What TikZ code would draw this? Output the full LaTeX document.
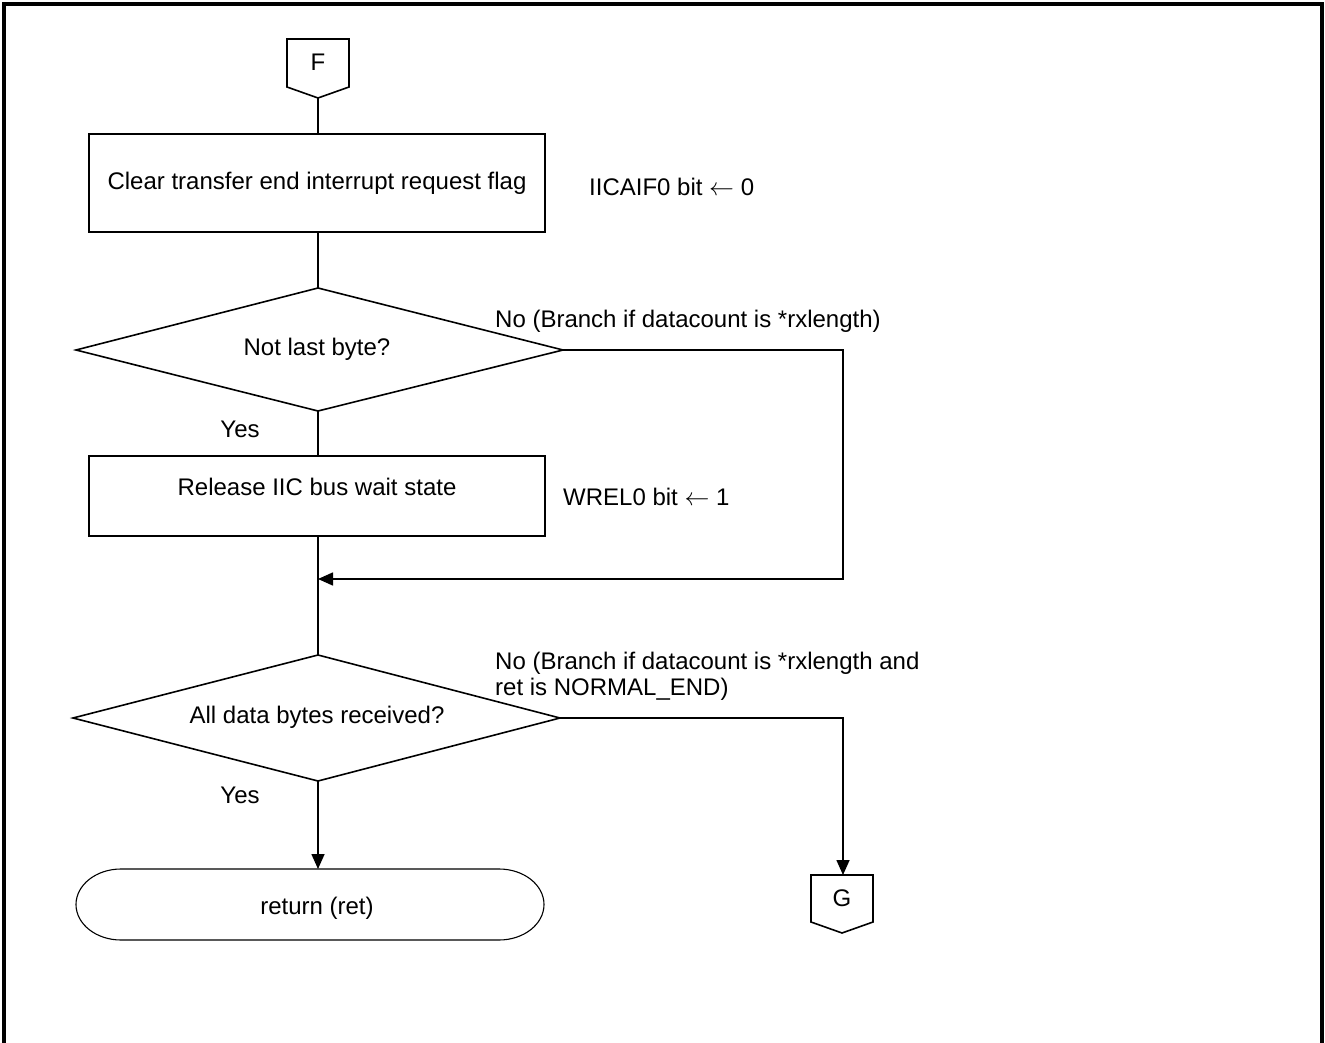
\documentclass[tikz,border=0pt]{standalone}
\usepackage{fontspec}
\setmainfont{Liberation Sans}
\usetikzlibrary{arrows.meta}
\begin{document}
\begin{tikzpicture}[x=1pt,y=-1pt,
  every node/.style={font=\fontsize{24}{26}\selectfont},
  proc/.style={draw, line width=1.6pt, minimum width=456pt, inner sep=0pt},
  conn/.style={line width=1.6pt},
  arr/.style={line width=1.6pt, -{Triangle[length=15pt,width=13pt]}},
  lbl/.style={anchor=west, inner sep=0pt},
  plain/.style={inner sep=0pt}
]
\useasboundingbox (0,0) rectangle (1325,1043);
% frame
\draw[line width=4pt] (4,1043) -- (4,4) -- (1322,4) -- (1322,1043);

% F connector
\draw[conn] (287,39) -- (349,39) -- (349,87) -- (318,98) -- (287,87) -- cycle;
\coordinate (Ftip) at (318,98);
\node[plain] (F) at (318,62) {F};

% box 1
\node[proc, minimum height=98pt] (b1) at (317,183) {Clear transfer end interrupt request flag};
\node[lbl] (l1) at (589,187) {IICAIF0 bit $\leftarrow$ 0};

% decision 1
\coordinate (d1n) at (318,288);
\coordinate (d1s) at (318,411);
\coordinate (d1e) at (563,350);
\coordinate (d1w) at (76,350);
\draw[conn] (d1n) -- (d1e) -- (d1s) -- (d1w) -- cycle;
\node[plain] (d1) at (317,349) {Not last byte?};
\node[lbl] (n1) at (495,321) {No (Branch if datacount is *rxlength)};
\node[plain] (y1) at (240,429) {Yes};

% box 2
\node[proc, minimum height=80pt] (b2) at (317,496) {};
\node[plain] (b2t) at (317,487) {Release IIC bus wait state};
\node[lbl] (l2) at (563,497) {WREL0 bit $\leftarrow$ 1};

\coordinate (m) at (318,579);
\coordinate (c1) at (843,579);

% decision 2
\coordinate (d2n) at (318,655);
\coordinate (d2s) at (318,781);
\coordinate (d2e) at (560,718);
\coordinate (d2w) at (73,718);
\draw[conn] (d2n) -- (d2e) -- (d2s) -- (d2w) -- cycle;
\node[plain] (d2) at (317,717) {All data bytes received?};
\node[lbl, align=left] (n2) at (495,676) {No (Branch if datacount is *rxlength and\\ret is NORMAL\_END)};
\node[plain] (y2) at (240,795) {Yes};

% terminal
\coordinate (tn) at (318,869);
\draw[line width=1.1pt] (121,869) -- (499,869)
  arc[start angle=-90, end angle=90, x radius=45, y radius=35.5]
  -- (121,940)
  arc[start angle=90, end angle=270, x radius=45, y radius=35.5] -- cycle;
\node[plain] (t) at (317,908) {return (ret)};

% G connector
\draw[conn] (811,875) -- (873,875) -- (873,922) -- (842,933) -- (811,922) -- cycle;
\coordinate (Gtop) at (843,875);
\node[plain] (G) at (842,898) {G};

% connectors
\draw[conn] (Ftip) -- (b1.north -| Ftip);
\draw[conn] (b1.south -| d1n) -- (d1n);
\draw[conn] (d1s) -- (b2.north -| d1s);
\draw[conn] (b2.south -| d2n) -- (d2n);
\draw[arr] (d1e) -| (c1) -- (m);
\draw[arr] (d2e) -| (Gtop);
\draw[arr] (d2s) -- (tn);
\end{tikzpicture}
\end{document}
